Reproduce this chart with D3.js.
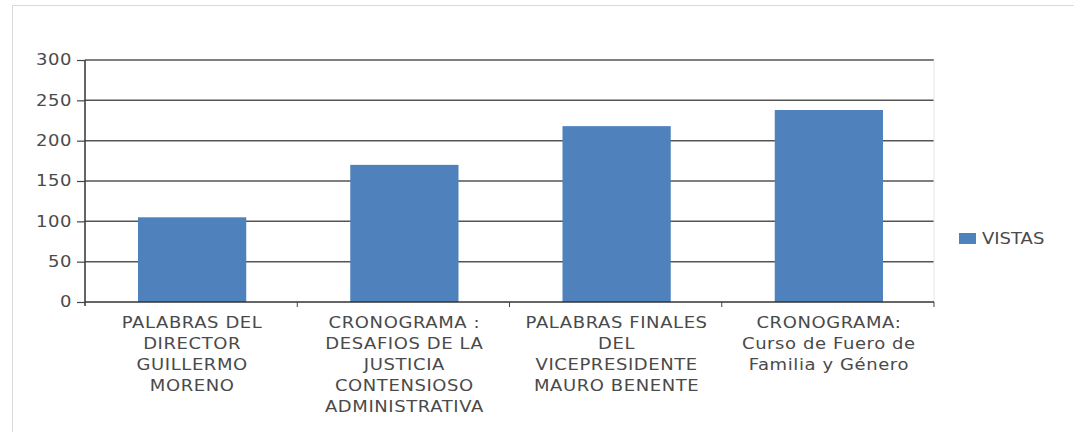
<!DOCTYPE html>
<html>
<head>
<meta charset="utf-8">
<title>Vistas</title>
<script src="https://cdn.jsdelivr.net/npm/d3@7"></script>
<style>
  body { margin: 0; background: #fff; }
  svg text { font-family: "DejaVu Sans", Verdana, sans-serif; fill: #4a4a4a; }
</style>
</head>
<body>
<div id="chart"></div>
<script>
// datos
var categorias = [
  ["PALABRAS DEL", "DIRECTOR", "GUILLERMO", "MORENO"],
  ["CRONOGRAMA :", "DESAFIOS DE LA", "JUSTICIA", "CONTENSIOSO", "ADMINISTRATIVA"],
  ["PALABRAS FINALES", "DEL", "VICEPRESIDENTE", "MAURO BENENTE"],
  ["CRONOGRAMA:", "Curso de Fuero de", "Familia y Género"]
];
var vistas = [105, 170, 218, 238];
var yTicks = [0, 50, 100, 150, 200, 250, 300];
var serie = "VISTAS";

var width = 1074, height = 432;
var mLeft = 85, mRight = 934, mTop = 60, mBottom = 302;
var estirar = 1.2; // el texto original se ve ensanchado

var svg = d3.select("#chart").append("svg")
    .attr("width", width)
    .attr("height", height);

// marco
svg.append("rect")
    .attr("x", 12.5).attr("y", 5.5)
    .attr("width", 1080).attr("height", 440)
    .attr("fill", "none")
    .attr("stroke", "#d9d9d9");

var x = d3.scaleBand()
    .domain(d3.range(categorias.length))
    .range([mLeft, mRight])
    .paddingInner(0.49)
    .paddingOuter(0.245);

var y = d3.scaleLinear().domain([0, 300]).range([mBottom, mTop]);

// lineas de cuadricula
svg.append("g").selectAll("line")
  .data(yTicks.slice(1))
  .enter().append("line")
    .attr("x1", mLeft).attr("x2", mRight)
    .attr("y1", function(d) { return y(d); })
    .attr("y2", function(d) { return y(d); })
    .attr("stroke", "#555")
    .attr("stroke-width", 1.5);

// borde derecho
svg.append("line")
    .attr("x1", mRight).attr("x2", mRight)
    .attr("y1", mTop).attr("y2", mBottom)
    .attr("stroke", "#e6e6e6");

// barras
svg.append("g").selectAll("rect")
  .data(vistas)
  .enter().append("rect")
    .attr("x", function(d, i) { return x(i) + 1; })
    .attr("y", function(d) { return y(d); })
    .attr("width", x.bandwidth())
    .attr("height", function(d) { return y(0) - y(d); })
    .attr("fill", "#4f81bd");

// eje y
var yAxis = svg.append("g")
    .attr("transform", "translate(" + mLeft + ",0)")
    .call(d3.axisLeft(y).tickValues(yTicks).tickSize(8).tickPadding(5));
yAxis.select(".domain").attr("stroke", "#333").attr("stroke-width", 1.5)
    .attr("d", "M0," + mTop + "V" + (mBottom + 4));
yAxis.selectAll(".tick line").attr("stroke", "#444").attr("stroke-width", 1.2);
yAxis.selectAll(".tick text")
    .attr("font-family", null)
    .attr("x", 0)
    .attr("transform", "translate(-13,0) scale(" + estirar + ",1)")
    .style("font-size", "15px")
    .style("letter-spacing", "0.5px")
    .attr("fill", "#4a4a4a");

// eje x
var xTicks = d3.range(1, categorias.length + 1).map(function(i) { return mLeft + i * (mRight - mLeft) / categorias.length; });
svg.append("line")
    .attr("x1", mLeft).attr("x2", mRight)
    .attr("y1", mBottom).attr("y2", mBottom)
    .attr("stroke", "#333").attr("stroke-width", 1.5);
svg.append("g").selectAll("line")
  .data(xTicks)
  .enter().append("line")
    .attr("x1", function(d) { return d; }).attr("x2", function(d) { return d; })
    .attr("y1", mBottom).attr("y2", mBottom + 5)
    .attr("stroke", "#444");

// etiquetas de categoria
var etiquetas = svg.append("g").selectAll("text")
  .data(categorias)
  .enter().append("text")
    .attr("text-anchor", "middle")
    .attr("transform", function(d, i) {
      return "translate(" + (x(i) + x.bandwidth() / 2 + 1) + ",0) scale(" + estirar + ",1)";
    })
    .style("font-size", "15px")
    .style("letter-spacing", "0.5px");
etiquetas.selectAll("tspan")
  .data(function(d) { return d; })
  .enter().append("tspan")
    .attr("x", 0)
    .attr("y", function(d, j) { return 328 + j * 21; })
    .text(function(d) { return d; });

// leyenda
svg.append("rect")
    .attr("x", 959).attr("y", 233)
    .attr("width", 17).attr("height", 11)
    .attr("fill", "#4f81bd");
svg.append("text")
    .attr("transform", "translate(982,244) scale(" + estirar + ",1)")
    .style("font-size", "15px")
    .text(serie);
</script>
</body>
</html>
